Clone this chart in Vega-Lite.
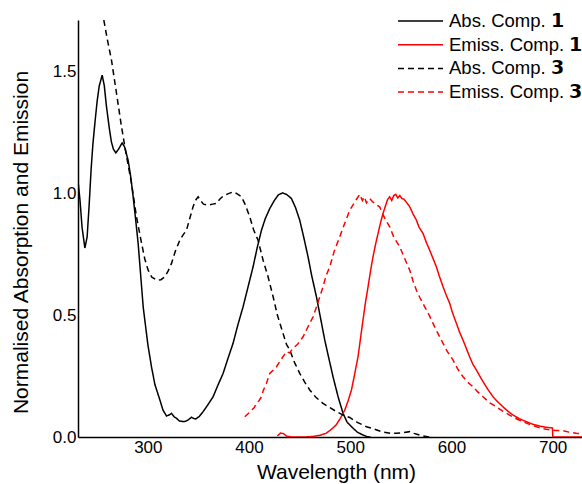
{
  "$schema": "https://vega.github.io/schema/vega-lite/v6.json",
  "width": 504,
  "height": 417,
  "autosize": {"type": "none"},
  "padding": {"left": 78, "top": 20, "right": 0, "bottom": 47},
  "config": {
    "view": {"stroke": null},
    "font": "Liberation Sans",
    "axis": {"grid": false, "ticks": false, "domainColor": "#000000", "domainWidth": 1.5, "labelColor": "#000000", "titleColor": "#000000", "labelFont": "Liberation Sans", "titleFont": "Liberation Sans", "titleFontWeight": "normal", "labelFontSize": 17, "titleFontSize": 21}
  },
  "datasets": {
    "spectra": [
      {"s":"Abs. Comp. 𝟭","x":231,"y":1.05},{"s":"Abs. Comp. 𝟭","x":233,"y":0.97},{"s":"Abs. Comp. 𝟭","x":235,"y":0.86},{"s":"Abs. Comp. 𝟭","x":237.8,"y":0.775},{"s":"Abs. Comp. 𝟭","x":240,"y":0.82},{"s":"Abs. Comp. 𝟭","x":242,"y":0.95},{"s":"Abs. Comp. 𝟭","x":244,"y":1.1},{"s":"Abs. Comp. 𝟭","x":245.7,"y":1.2},{"s":"Abs. Comp. 𝟭","x":248,"y":1.3},{"s":"Abs. Comp. 𝟭","x":250,"y":1.38},{"s":"Abs. Comp. 𝟭","x":252,"y":1.44},{"s":"Abs. Comp. 𝟭","x":254.9,"y":1.484},{"s":"Abs. Comp. 𝟭","x":257,"y":1.44},{"s":"Abs. Comp. 𝟭","x":259,"y":1.36},{"s":"Abs. Comp. 𝟭","x":261.8,"y":1.27},{"s":"Abs. Comp. 𝟭","x":264,"y":1.21},{"s":"Abs. Comp. 𝟭","x":266,"y":1.18},{"s":"Abs. Comp. 𝟭","x":268.4,"y":1.165},{"s":"Abs. Comp. 𝟭","x":271,"y":1.18},{"s":"Abs. Comp. 𝟭","x":274.6,"y":1.206},{"s":"Abs. Comp. 𝟭","x":277,"y":1.19},{"s":"Abs. Comp. 𝟭","x":280.5,"y":1.135},{"s":"Abs. Comp. 𝟭","x":283,"y":1.07},{"s":"Abs. Comp. 𝟭","x":285.5,"y":0.985},{"s":"Abs. Comp. 𝟭","x":288,"y":0.89},{"s":"Abs. Comp. 𝟭","x":290.4,"y":0.795},{"s":"Abs. Comp. 𝟭","x":293,"y":0.66},{"s":"Abs. Comp. 𝟭","x":295.4,"y":0.534},{"s":"Abs. Comp. 𝟭","x":297,"y":0.48},{"s":"Abs. Comp. 𝟭","x":300,"y":0.38},{"s":"Abs. Comp. 𝟭","x":303.6,"y":0.288},{"s":"Abs. Comp. 𝟭","x":307,"y":0.215},{"s":"Abs. Comp. 𝟭","x":311.9,"y":0.152},{"s":"Abs. Comp. 𝟭","x":315,"y":0.11},{"s":"Abs. Comp. 𝟭","x":318.5,"y":0.086},{"s":"Abs. Comp. 𝟭","x":321,"y":0.09},{"s":"Abs. Comp. 𝟭","x":323.4,"y":0.097},{"s":"Abs. Comp. 𝟭","x":326,"y":0.083},{"s":"Abs. Comp. 𝟭","x":328.3,"y":0.077},{"s":"Abs. Comp. 𝟭","x":331,"y":0.066},{"s":"Abs. Comp. 𝟭","x":334.9,"y":0.063},{"s":"Abs. Comp. 𝟭","x":337,"y":0.064},{"s":"Abs. Comp. 𝟭","x":339.8,"y":0.07},{"s":"Abs. Comp. 𝟭","x":343.2,"y":0.081},{"s":"Abs. Comp. 𝟭","x":345.5,"y":0.076},{"s":"Abs. Comp. 𝟭","x":347.4,"y":0.074},{"s":"Abs. Comp. 𝟭","x":351,"y":0.085},{"s":"Abs. Comp. 𝟭","x":354.6,"y":0.104},{"s":"Abs. Comp. 𝟭","x":359,"y":0.13},{"s":"Abs. Comp. 𝟭","x":364.5,"y":0.165},{"s":"Abs. Comp. 𝟭","x":369,"y":0.21},{"s":"Abs. Comp. 𝟭","x":374.4,"y":0.261},{"s":"Abs. Comp. 𝟭","x":379,"y":0.32},{"s":"Abs. Comp. 𝟭","x":384.2,"y":0.384},{"s":"Abs. Comp. 𝟭","x":389,"y":0.46},{"s":"Abs. Comp. 𝟭","x":394.1,"y":0.534},{"s":"Abs. Comp. 𝟭","x":399,"y":0.615},{"s":"Abs. Comp. 𝟭","x":404,"y":0.698},{"s":"Abs. Comp. 𝟭","x":408,"y":0.775},{"s":"Abs. Comp. 𝟭","x":412.3,"y":0.848},{"s":"Abs. Comp. 𝟭","x":416,"y":0.895},{"s":"Abs. Comp. 𝟭","x":420.5,"y":0.937},{"s":"Abs. Comp. 𝟭","x":425,"y":0.97},{"s":"Abs. Comp. 𝟭","x":429,"y":0.993},{"s":"Abs. Comp. 𝟭","x":433,"y":1.001},{"s":"Abs. Comp. 𝟭","x":437,"y":0.995},{"s":"Abs. Comp. 𝟭","x":441.9,"y":0.978},{"s":"Abs. Comp. 𝟭","x":446,"y":0.94},{"s":"Abs. Comp. 𝟭","x":450.1,"y":0.889},{"s":"Abs. Comp. 𝟭","x":454,"y":0.82},{"s":"Abs. Comp. 𝟭","x":458.3,"y":0.739},{"s":"Abs. Comp. 𝟭","x":462,"y":0.66},{"s":"Abs. Comp. 𝟭","x":466.6,"y":0.575},{"s":"Abs. Comp. 𝟭","x":471,"y":0.48},{"s":"Abs. Comp. 𝟭","x":474.8,"y":0.398},{"s":"Abs. Comp. 𝟭","x":479,"y":0.32},{"s":"Abs. Comp. 𝟭","x":483,"y":0.247},{"s":"Abs. Comp. 𝟭","x":488,"y":0.165},{"s":"Abs. Comp. 𝟭","x":492.9,"y":0.097},{"s":"Abs. Comp. 𝟭","x":497,"y":0.06},{"s":"Abs. Comp. 𝟭","x":502.8,"y":0.036},{"s":"Abs. Comp. 𝟭","x":507,"y":0.02},{"s":"Abs. Comp. 𝟭","x":512.6,"y":0.008},{"s":"Abs. Comp. 𝟭","x":517,"y":0.001},{"s":"Abs. Comp. 𝟭","x":520,"y":0},

      {"s":"Emiss. Comp. 𝟭","x":428,"y":0.004},{"s":"Emiss. Comp. 𝟭","x":431,"y":0.016},{"s":"Emiss. Comp. 𝟭","x":434,"y":0.014},{"s":"Emiss. Comp. 𝟭","x":437,"y":0.004},{"s":"Emiss. Comp. 𝟭","x":442,"y":0},{"s":"Emiss. Comp. 𝟭","x":455,"y":0},{"s":"Emiss. Comp. 𝟭","x":463,"y":0.002},{"s":"Emiss. Comp. 𝟭","x":470,"y":0.007},{"s":"Emiss. Comp. 𝟭","x":476,"y":0.015},{"s":"Emiss. Comp. 𝟭","x":481,"y":0.03},{"s":"Emiss. Comp. 𝟭","x":486,"y":0.049},{"s":"Emiss. Comp. 𝟭","x":490,"y":0.075},{"s":"Emiss. Comp. 𝟭","x":494.6,"y":0.11},{"s":"Emiss. Comp. 𝟭","x":498,"y":0.15},{"s":"Emiss. Comp. 𝟭","x":501.2,"y":0.193},{"s":"Emiss. Comp. 𝟭","x":504,"y":0.25},{"s":"Emiss. Comp. 𝟭","x":507.7,"y":0.329},{"s":"Emiss. Comp. 𝟭","x":510,"y":0.4},{"s":"Emiss. Comp. 𝟭","x":512.6,"y":0.48},{"s":"Emiss. Comp. 𝟭","x":515,"y":0.55},{"s":"Emiss. Comp. 𝟭","x":517.6,"y":0.616},{"s":"Emiss. Comp. 𝟭","x":520,"y":0.68},{"s":"Emiss. Comp. 𝟭","x":522.5,"y":0.739},{"s":"Emiss. Comp. 𝟭","x":525,"y":0.79},{"s":"Emiss. Comp. 𝟭","x":527.5,"y":0.835},{"s":"Emiss. Comp. 𝟭","x":530,"y":0.88},{"s":"Emiss. Comp. 𝟭","x":532.4,"y":0.917},{"s":"Emiss. Comp. 𝟭","x":535,"y":0.95},{"s":"Emiss. Comp. 𝟭","x":537,"y":0.975},{"s":"Emiss. Comp. 𝟭","x":539,"y":0.985},{"s":"Emiss. Comp. 𝟭","x":541,"y":0.97},{"s":"Emiss. Comp. 𝟭","x":543,"y":0.99},{"s":"Emiss. Comp. 𝟭","x":545,"y":0.995},{"s":"Emiss. Comp. 𝟭","x":547,"y":0.98},{"s":"Emiss. Comp. 𝟭","x":549,"y":0.99},{"s":"Emiss. Comp. 𝟭","x":551,"y":0.978},{"s":"Emiss. Comp. 𝟭","x":553,"y":0.975},{"s":"Emiss. Comp. 𝟭","x":556,"y":0.96},{"s":"Emiss. Comp. 𝟭","x":558.8,"y":0.944},{"s":"Emiss. Comp. 𝟭","x":562,"y":0.915},{"s":"Emiss. Comp. 𝟭","x":565.4,"y":0.889},{"s":"Emiss. Comp. 𝟭","x":568,"y":0.86},{"s":"Emiss. Comp. 𝟭","x":571.9,"y":0.835},{"s":"Emiss. Comp. 𝟭","x":575,"y":0.8},{"s":"Emiss. Comp. 𝟭","x":578.5,"y":0.766},{"s":"Emiss. Comp. 𝟭","x":582,"y":0.73},{"s":"Emiss. Comp. 𝟭","x":585.1,"y":0.698},{"s":"Emiss. Comp. 𝟭","x":588,"y":0.66},{"s":"Emiss. Comp. 𝟭","x":591.7,"y":0.616},{"s":"Emiss. Comp. 𝟭","x":595,"y":0.58},{"s":"Emiss. Comp. 𝟭","x":598.3,"y":0.548},{"s":"Emiss. Comp. 𝟭","x":601,"y":0.51},{"s":"Emiss. Comp. 𝟭","x":604.9,"y":0.466},{"s":"Emiss. Comp. 𝟭","x":608,"y":0.43},{"s":"Emiss. Comp. 𝟭","x":611.4,"y":0.398},{"s":"Emiss. Comp. 𝟭","x":615,"y":0.36},{"s":"Emiss. Comp. 𝟭","x":618,"y":0.329},{"s":"Emiss. Comp. 𝟭","x":621,"y":0.3},{"s":"Emiss. Comp. 𝟭","x":624.6,"y":0.275},{"s":"Emiss. Comp. 𝟭","x":628,"y":0.25},{"s":"Emiss. Comp. 𝟭","x":631.2,"y":0.227},{"s":"Emiss. Comp. 𝟭","x":636,"y":0.195},{"s":"Emiss. Comp. 𝟭","x":641.1,"y":0.165},{"s":"Emiss. Comp. 𝟭","x":646,"y":0.143},{"s":"Emiss. Comp. 𝟭","x":650.9,"y":0.124},{"s":"Emiss. Comp. 𝟭","x":656,"y":0.105},{"s":"Emiss. Comp. 𝟭","x":660.8,"y":0.09},{"s":"Emiss. Comp. 𝟭","x":667,"y":0.075},{"s":"Emiss. Comp. 𝟭","x":674,"y":0.063},{"s":"Emiss. Comp. 𝟭","x":680,"y":0.053},{"s":"Emiss. Comp. 𝟭","x":687.2,"y":0.045},{"s":"Emiss. Comp. 𝟭","x":693,"y":0.04},{"s":"Emiss. Comp. 𝟭","x":699.8,"y":0.037},{"s":"Emiss. Comp. 𝟭","x":700.2,"y":0},{"s":"Emiss. Comp. 𝟭","x":729,"y":0},

      {"s":"Abs. Comp. 𝟯","x":256.5,"y":1.71},{"s":"Abs. Comp. 𝟯","x":260,"y":1.63},{"s":"Abs. Comp. 𝟯","x":264.1,"y":1.545},{"s":"Abs. Comp. 𝟯","x":269.1,"y":1.408},{"s":"Abs. Comp. 𝟯","x":274,"y":1.272},{"s":"Abs. Comp. 𝟯","x":279,"y":1.15},{"s":"Abs. Comp. 𝟯","x":283.9,"y":1.04},{"s":"Abs. Comp. 𝟯","x":288.8,"y":0.903},{"s":"Abs. Comp. 𝟯","x":293.8,"y":0.795},{"s":"Abs. Comp. 𝟯","x":297,"y":0.73},{"s":"Abs. Comp. 𝟯","x":300.3,"y":0.684},{"s":"Abs. Comp. 𝟯","x":304,"y":0.655},{"s":"Abs. Comp. 𝟯","x":309.2,"y":0.643},{"s":"Abs. Comp. 𝟯","x":313,"y":0.645},{"s":"Abs. Comp. 𝟯","x":316.8,"y":0.657},{"s":"Abs. Comp. 𝟯","x":320,"y":0.68},{"s":"Abs. Comp. 𝟯","x":323.4,"y":0.712},{"s":"Abs. Comp. 𝟯","x":327,"y":0.76},{"s":"Abs. Comp. 𝟯","x":331.6,"y":0.807},{"s":"Abs. Comp. 𝟯","x":335,"y":0.83},{"s":"Abs. Comp. 𝟯","x":338.2,"y":0.848},{"s":"Abs. Comp. 𝟯","x":341,"y":0.89},{"s":"Abs. Comp. 𝟯","x":344.7,"y":0.944},{"s":"Abs. Comp. 𝟯","x":347,"y":0.97},{"s":"Abs. Comp. 𝟯","x":349.7,"y":0.985},{"s":"Abs. Comp. 𝟯","x":352,"y":0.97},{"s":"Abs. Comp. 𝟯","x":355,"y":0.955},{"s":"Abs. Comp. 𝟯","x":359.6,"y":0.951},{"s":"Abs. Comp. 𝟯","x":364,"y":0.955},{"s":"Abs. Comp. 𝟯","x":367.9,"y":0.958},{"s":"Abs. Comp. 𝟯","x":371,"y":0.975},{"s":"Abs. Comp. 𝟯","x":374.4,"y":0.988},{"s":"Abs. Comp. 𝟯","x":379,"y":0.997},{"s":"Abs. Comp. 𝟯","x":384.2,"y":1.005},{"s":"Abs. Comp. 𝟯","x":388,"y":0.998},{"s":"Abs. Comp. 𝟯","x":392.5,"y":0.985},{"s":"Abs. Comp. 𝟯","x":396,"y":0.955},{"s":"Abs. Comp. 𝟯","x":400.7,"y":0.903},{"s":"Abs. Comp. 𝟯","x":404.5,"y":0.85},{"s":"Abs. Comp. 𝟯","x":408.9,"y":0.807},{"s":"Abs. Comp. 𝟯","x":413.9,"y":0.725},{"s":"Abs. Comp. 𝟯","x":418.8,"y":0.657},{"s":"Abs. Comp. 𝟯","x":423.8,"y":0.575},{"s":"Abs. Comp. 𝟯","x":428,"y":0.5},{"s":"Abs. Comp. 𝟯","x":433.6,"y":0.425},{"s":"Abs. Comp. 𝟯","x":437,"y":0.38},{"s":"Abs. Comp. 𝟯","x":440.2,"y":0.357},{"s":"Abs. Comp. 𝟯","x":445,"y":0.305},{"s":"Abs. Comp. 𝟯","x":450.1,"y":0.261},{"s":"Abs. Comp. 𝟯","x":455,"y":0.225},{"s":"Abs. Comp. 𝟯","x":460,"y":0.193},{"s":"Abs. Comp. 𝟯","x":466,"y":0.163},{"s":"Abs. Comp. 𝟯","x":473.1,"y":0.138},{"s":"Abs. Comp. 𝟯","x":480,"y":0.12},{"s":"Abs. Comp. 𝟯","x":486.4,"y":0.104},{"s":"Abs. Comp. 𝟯","x":493,"y":0.09},{"s":"Abs. Comp. 𝟯","x":499.5,"y":0.08},{"s":"Abs. Comp. 𝟯","x":507,"y":0.06},{"s":"Abs. Comp. 𝟯","x":516,"y":0.042},{"s":"Abs. Comp. 𝟯","x":522.5,"y":0.034},{"s":"Abs. Comp. 𝟯","x":532.4,"y":0.02},{"s":"Abs. Comp. 𝟯","x":540,"y":0.015},{"s":"Abs. Comp. 𝟯","x":545.6,"y":0.015},{"s":"Abs. Comp. 𝟯","x":552,"y":0.018},{"s":"Abs. Comp. 𝟯","x":558.8,"y":0.022},{"s":"Abs. Comp. 𝟯","x":563,"y":0.015},{"s":"Abs. Comp. 𝟯","x":570,"y":0.006},{"s":"Abs. Comp. 𝟯","x":578,"y":0},

      {"s":"Emiss. Comp. 𝟯","x":395.8,"y":0.083},{"s":"Emiss. Comp. 𝟯","x":399,"y":0.095},{"s":"Emiss. Comp. 𝟯","x":402.4,"y":0.11},{"s":"Emiss. Comp. 𝟯","x":405,"y":0.12},{"s":"Emiss. Comp. 𝟯","x":407.4,"y":0.138},{"s":"Emiss. Comp. 𝟯","x":410,"y":0.15},{"s":"Emiss. Comp. 𝟯","x":412.3,"y":0.165},{"s":"Emiss. Comp. 𝟯","x":414,"y":0.19},{"s":"Emiss. Comp. 𝟯","x":417.2,"y":0.22},{"s":"Emiss. Comp. 𝟯","x":420.5,"y":0.261},{"s":"Emiss. Comp. 𝟯","x":424,"y":0.275},{"s":"Emiss. Comp. 𝟯","x":427.1,"y":0.288},{"s":"Emiss. Comp. 𝟯","x":432,"y":0.32},{"s":"Emiss. Comp. 𝟯","x":437,"y":0.35},{"s":"Emiss. Comp. 𝟯","x":440,"y":0.345},{"s":"Emiss. Comp. 𝟯","x":443.5,"y":0.364},{"s":"Emiss. Comp. 𝟯","x":448,"y":0.38},{"s":"Emiss. Comp. 𝟯","x":453.4,"y":0.411},{"s":"Emiss. Comp. 𝟯","x":458,"y":0.45},{"s":"Emiss. Comp. 𝟯","x":463.3,"y":0.493},{"s":"Emiss. Comp. 𝟯","x":468,"y":0.55},{"s":"Emiss. Comp. 𝟯","x":473.1,"y":0.616},{"s":"Emiss. Comp. 𝟯","x":476,"y":0.66},{"s":"Emiss. Comp. 𝟯","x":479.8,"y":0.698},{"s":"Emiss. Comp. 𝟯","x":484,"y":0.76},{"s":"Emiss. Comp. 𝟯","x":489.6,"y":0.821},{"s":"Emiss. Comp. 𝟯","x":494,"y":0.87},{"s":"Emiss. Comp. 𝟯","x":499.5,"y":0.93},{"s":"Emiss. Comp. 𝟯","x":504,"y":0.96},{"s":"Emiss. Comp. 𝟯","x":507,"y":0.98},{"s":"Emiss. Comp. 𝟯","x":509.4,"y":0.995},{"s":"Emiss. Comp. 𝟯","x":512,"y":0.97},{"s":"Emiss. Comp. 𝟯","x":514,"y":0.985},{"s":"Emiss. Comp. 𝟯","x":516,"y":0.96},{"s":"Emiss. Comp. 𝟯","x":519.3,"y":0.978},{"s":"Emiss. Comp. 𝟯","x":522,"y":0.965},{"s":"Emiss. Comp. 𝟯","x":525,"y":0.955},{"s":"Emiss. Comp. 𝟯","x":529.1,"y":0.944},{"s":"Emiss. Comp. 𝟯","x":532,"y":0.915},{"s":"Emiss. Comp. 𝟯","x":535,"y":0.89},{"s":"Emiss. Comp. 𝟯","x":539,"y":0.862},{"s":"Emiss. Comp. 𝟯","x":543,"y":0.82},{"s":"Emiss. Comp. 𝟯","x":548.9,"y":0.78},{"s":"Emiss. Comp. 𝟯","x":553,"y":0.74},{"s":"Emiss. Comp. 𝟯","x":558.8,"y":0.684},{"s":"Emiss. Comp. 𝟯","x":562,"y":0.64},{"s":"Emiss. Comp. 𝟯","x":565.4,"y":0.602},{"s":"Emiss. Comp. 𝟯","x":569,"y":0.57},{"s":"Emiss. Comp. 𝟯","x":573.6,"y":0.534},{"s":"Emiss. Comp. 𝟯","x":578,"y":0.5},{"s":"Emiss. Comp. 𝟯","x":581.8,"y":0.466},{"s":"Emiss. Comp. 𝟯","x":586,"y":0.43},{"s":"Emiss. Comp. 𝟯","x":591.7,"y":0.384},{"s":"Emiss. Comp. 𝟯","x":596,"y":0.35},{"s":"Emiss. Comp. 𝟯","x":601.5,"y":0.316},{"s":"Emiss. Comp. 𝟯","x":606,"y":0.28},{"s":"Emiss. Comp. 𝟯","x":611.4,"y":0.247},{"s":"Emiss. Comp. 𝟯","x":616,"y":0.225},{"s":"Emiss. Comp. 𝟯","x":621.3,"y":0.206},{"s":"Emiss. Comp. 𝟯","x":626,"y":0.185},{"s":"Emiss. Comp. 𝟯","x":631.2,"y":0.165},{"s":"Emiss. Comp. 𝟯","x":638,"y":0.14},{"s":"Emiss. Comp. 𝟯","x":644.4,"y":0.124},{"s":"Emiss. Comp. 𝟯","x":651,"y":0.105},{"s":"Emiss. Comp. 𝟯","x":657.5,"y":0.09},{"s":"Emiss. Comp. 𝟯","x":664,"y":0.075},{"s":"Emiss. Comp. 𝟯","x":670.7,"y":0.063},{"s":"Emiss. Comp. 𝟯","x":677,"y":0.052},{"s":"Emiss. Comp. 𝟯","x":683.9,"y":0.042},{"s":"Emiss. Comp. 𝟯","x":690,"y":0.035},{"s":"Emiss. Comp. 𝟯","x":697,"y":0.029},{"s":"Emiss. Comp. 𝟯","x":703,"y":0.027},{"s":"Emiss. Comp. 𝟯","x":710.2,"y":0.026},{"s":"Emiss. Comp. 𝟯","x":716,"y":0.02},{"s":"Emiss. Comp. 𝟯","x":723.4,"y":0.015},{"s":"Emiss. Comp. 𝟯","x":729,"y":0.013}
    ]
  },
  "data": {"name": "spectra"},
  "mark": {"type": "line", "strokeWidth": 1.5, "clip": true, "interpolate": "linear"},
  "encoding": {
    "x": {"field": "x", "type": "quantitative", "title": "Wavelength (nm)",
      "scale": {"domain": [231, 729], "nice": false, "zero": false},
      "axis": {"values": [300, 400, 500, 600, 700], "labelPadding": 2, "titlePadding": 6, "titleX": 258, "labelFlush": false}},
    "y": {"field": "y", "type": "quantitative", "title": "Normalised Absorption and Emission",
      "scale": {"domain": [0, 1.71], "nice": false},
      "axis": {"values": [0, 0.5, 1.0, 1.5], "format": ".1f", "labelPadding": 2, "titlePadding": 21, "titleY": 222, "labelFlush": false}},
    "color": {"field": "s", "type": "nominal", "title": null,
      "scale": {"domain": ["Abs. Comp. 𝟭", "Emiss. Comp. 𝟭", "Abs. Comp. 𝟯", "Emiss. Comp. 𝟯"], "range": ["#000000", "#ff0000", "#000000", "#ff0000"]},
      "legend": {"orient": "none", "legendX": 346, "legendY": -9, "padding": 0, "symbolType": "M-4,0H1", "symbolSize": 324, "symbolStrokeWidth": 1.5, "labelFontSize": 18.5, "labelFont": "Liberation Sans", "labelColor": "#000000", "rowPadding": 3.7, "labelOffset": 5, "labelLimit": 300}},
    "strokeDash": {"field": "s", "type": "nominal", "title": null,
      "scale": {"domain": ["Abs. Comp. 𝟭", "Emiss. Comp. 𝟭", "Abs. Comp. 𝟯", "Emiss. Comp. 𝟯"], "range": [[1, 0], [1, 0], [6, 4], [6, 4]]}}
  }
}
